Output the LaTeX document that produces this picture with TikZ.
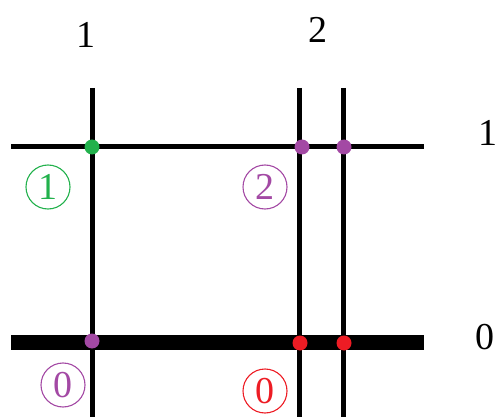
\documentclass[tikz,border=0pt]{standalone}
\usepackage{fontspec}
\setmainfont{Liberation Serif}
\definecolor{pgreen}{RGB}{34,177,76}
\definecolor{ppurple}{RGB}{163,73,164}
\definecolor{pred}{RGB}{237,28,36}
\begin{document}
\begin{tikzpicture}[x=1pt,y=-1pt,
  wire/.style={line width=5pt},
  thickwire/.style={line width=15pt},
  dotmark/.style={circle,fill=#1,inner sep=0pt,minimum size=15pt},
  lbl/.style={font=\fontsize{38}{40}\selectfont,inner sep=0pt},
  clbl/.style={circle,draw=#1,text=#1,line width=1.1pt,minimum size=44pt,inner sep=0pt,font=\fontsize{38}{40}\selectfont}]
\useasboundingbox (0,0) rectangle (498,417);
% coordinates
\coordinate (v1t) at (92,88);  \coordinate (v1b) at (92,420);
\coordinate (v2t) at (299,88); \coordinate (v2b) at (299,420);
\coordinate (v3t) at (343,88); \coordinate (v3b) at (343,420);
\coordinate (h1l) at (11,147); \coordinate (h1r) at (424,147);
\coordinate (h0l) at (11,342); \coordinate (h0r) at (424,342);
\draw[wire] (v1t) -- (v1b);
\draw[wire] (v2t) -- (v2b);
\draw[wire] (v3t) -- (v3b);
\draw[wire] (h1l) -- (h1r);
\draw[thickwire] (h0l) -- (h0r);
% dots
\node[dotmark=pgreen] (d11) at (92,147) {};
\node[dotmark=ppurple] (d21) at (302,147) {};
\node[dotmark=ppurple] (d31) at (344,147) {};
\node[dotmark=ppurple] (d10) at (92,341) {};
\node[dotmark=pred] (d20) at (300,343) {};
\node[dotmark=pred] (d30) at (344,343) {};
% labels
\node[lbl] (c1) at (86,35) {1};
\node[lbl] (c2) at (318,30) {2};
\node[lbl] (r1) at (488,133) {1};
\node[lbl] (r0) at (485,337) {0};
\node[clbl=pgreen] (q1) at (48,187) {1};
\node[clbl=ppurple] (q2) at (265,187) {2};
\node[clbl=ppurple] (q0a) at (63,385) {0};
\node[clbl=pred] (q0b) at (265,391) {0};
\end{tikzpicture}
\end{document}
